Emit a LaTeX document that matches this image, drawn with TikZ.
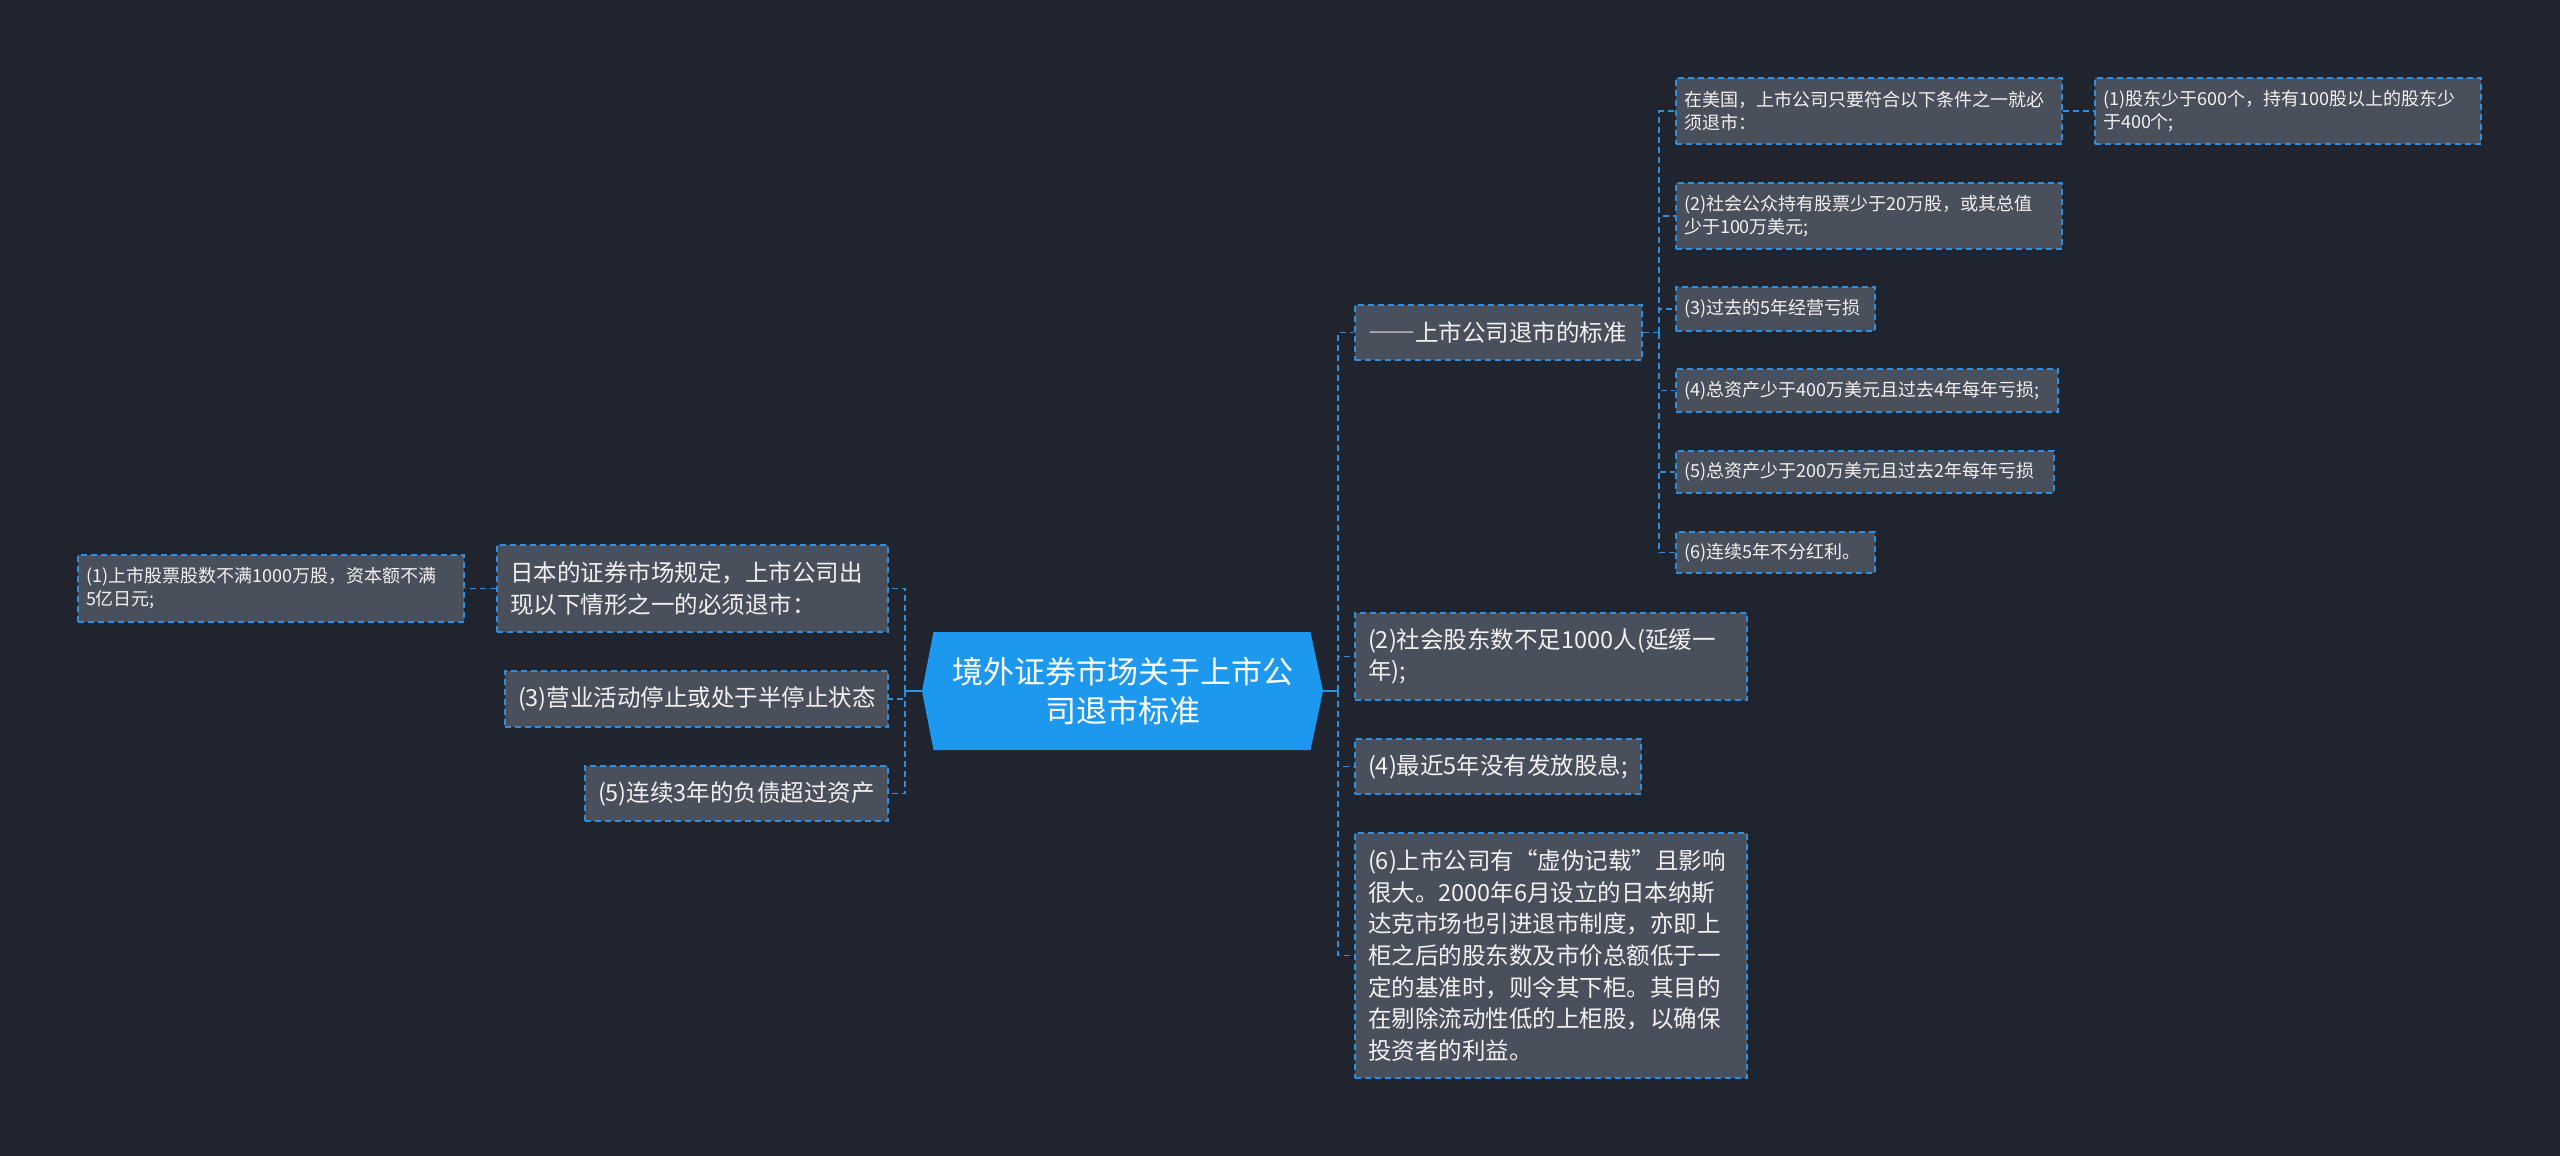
\documentclass[tikz,border=0pt]{standalone}
\usepackage{fontspec}
\setmainfont{Noto Sans CJK SC}
\usepackage{tikz}
\usetikzlibrary{calc}
\definecolor{pagebg}{HTML}{20242F}
\definecolor{boxfill}{HTML}{4A4F5C}
\definecolor{linkblue}{HTML}{2C8FDF}
\definecolor{rootblue}{HTML}{1C98EE}
\definecolor{textwhite}{HTML}{F2F2F2}
\newcommand{\wdash}{{\addfontfeatures{CharacterWidth=Full}——}}

\begin{document}
\begin{tikzpicture}[x=1pt,y=-1pt,
 box/.style={draw=linkblue,fill=boxfill,line width=1.8pt,dash pattern=on 6pt off 4pt,text=textwhite,align=left,inner xsep=13pt,inner ysep=0pt,font=\fontsize{23.5}{31.7}\selectfont},
 small/.style={box,inner xsep=8pt,font=\fontsize{18}{23}\selectfont},
 rootbox/.style={text=white,align=center,inner sep=0pt,minimum width=401pt,minimum height=118pt,font=\fontsize{31}{39}\selectfont},
 link/.style={draw=linkblue,line width=1.8pt,dash pattern=on 6pt off 4pt},
 stem/.style={draw=linkblue,line width=1.8pt}]
\fill[pagebg] (0,0) rectangle (2560,1156);
\coordinate (rootc) at (1122.5,691);
\fill[rootblue] (rootc) ++(-189,-59) -- ++(377,0) -- ++(12.5,59) -- ++(-12.5,59) -- ++(-377,0) -- ++(-11.5,-59) -- cycle;
\node[rootbox] (root) at (rootc) {境外证券市场关于上市公\\司退市标准};

\node[box,text width=365pt,minimum height=87pt] (jpRule) at (692.5,588.5) {日本的证券市场规定，上市公司出\\现以下情形之一的必须退市：};
\node[box,text width=357pt,minimum height=56pt] (jp3) at (696.5,699) {(3)营业活动停止或处于半停止状态};
\node[box,text width=277pt,minimum height=55pt] (jp5) at (736.5,793.5) {(5)连续3年的负债超过资产};
\node[small,text width=370pt,minimum height=67pt] (jp1) at (271,588.5) {(1)上市股票股数不满1000万股，资本额不满\\5亿日元;};

\node[box,text width=261pt,minimum height=55pt] (usStd) at (1498.5,332.5) {\wdash 上市公司退市的标准};
\node[box,text width=366pt,minimum height=87pt] (rt2) at (1551,656.5) {(2)社会股东数不足1000人(延缓一\\年);};
\node[box,text width=260pt,minimum height=55pt] (rt4) at (1498,766.5) {(4)最近5年没有发放股息;};
\node[box,text width=366pt,minimum height=245pt] (rt6) at (1551,955.5) {(6)上市公司有“虚伪记载”且影响\\很大。2000年6月设立的日本纳斯\\达克市场也引进退市制度，亦即上\\柜之后的股东数及市价总额低于一\\定的基准时，则令其下柜。其目的\\在剔除流动性低的上柜股，以确保\\投资者的利益。};

\node[small,text width=370pt,minimum height=66pt] (us0) at (1869,111) {在美国，上市公司只要符合以下条件之一就必\\须退市：};
\node[small,text width=370pt,minimum height=66pt] (us2) at (1869,216) {(2)社会公众持有股票少于20万股，或其总值\\少于100万美元;};
\node[small,text width=183pt,minimum height=44pt] (us3) at (1775.5,309) {(3)过去的5年经营亏损};
\node[small,text width=366pt,minimum height=43pt] (us4) at (1867,390.5) {(4)总资产少于400万美元且过去4年每年亏损;};
\node[small,text width=362pt,minimum height=42pt] (us5) at (1865,472) {(5)总资产少于200万美元且过去2年每年亏损};
\node[small,text width=183pt,minimum height=41pt] (us6) at (1775.5,552.5) {(6)连续5年不分红利。};
\node[small,text width=370pt,minimum height=66pt] (us1) at (2288,111) {(1)股东少于600个，持有100股以上的股东少\\于400个;};

\coordinate (lspine) at (905,691);
\draw[stem] (root.west) -- (lspine);
\foreach \n in {jpRule,jp3,jp5} \draw[link] (lspine) |- (\n.east);
\draw[link] (jpRule.west) -- (jp1.east);

\coordinate (rspine) at (1338,691);
\draw[stem] (root.east) -- (rspine);
\foreach \n in {usStd,rt2,rt4,rt6} \draw[link] (rspine) |- (\n.west);

\coordinate (sspine) at (1659,332.5);
\draw[link] (usStd.east) -- (sspine);
\foreach \n in {us0,us2,us3,us4,us5,us6} \draw[link] (sspine) |- (\n.west);
\draw[link] (us0.east) -- (us1.west);
\end{tikzpicture}
\end{document}
